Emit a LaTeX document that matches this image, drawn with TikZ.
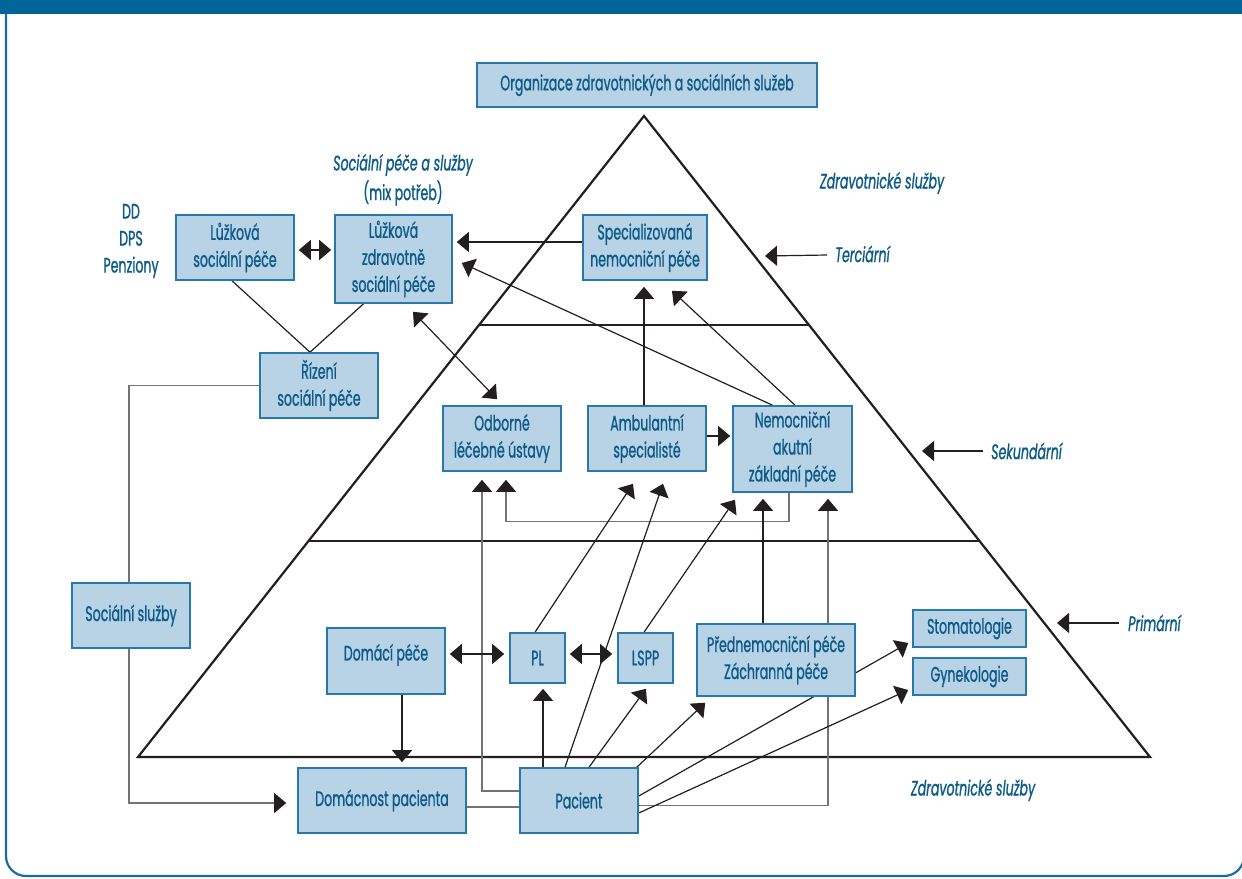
\documentclass[tikz,border=0pt]{standalone}
\usepackage{fontspec}
\setmainfont{Poppins}[FakeStretch=0.6, FakeBold=0.9]
\usetikzlibrary{arrows.meta,calc,backgrounds}
\definecolor{hdr}{RGB}{0,102,153}
\definecolor{frm}{RGB}{26,110,158}
\definecolor{txt}{RGB}{12,90,136}
\definecolor{bfill}{RGB}{184,211,230}
\definecolor{bdraw}{RGB}{40,120,170}
\definecolor{ink}{RGB}{35,31,32}
\definecolor{grayline}{RGB}{115,115,115}
\tikzset{
  bx/.style={draw=bdraw, fill=bfill, line width=1.6pt, text=txt, align=center, inner sep=0pt},
  lbl/.style={text=txt, inner sep=0pt},
  lev/.style={text=txt, font=\itshape, inner sep=0pt, anchor=west},
  tip/.style={-{Triangle[length=12pt,width=20pt,color=ink]}},
  con/.style={draw=ink, line width=1.2pt},
  arr/.style={con, tip},
  dbl/.style={con, {Triangle[length=12pt,width=20pt]}-{Triangle[length=12pt,width=20pt]}},
  elb/.style={draw=grayline, line width=1.3pt},
  elbarr/.style={elb, tip},
  pyr/.style={draw=ink, line width=2.2pt, line join=miter},
}
% box given by its corners x1,y1,x2,y2 (y grows downwards)
\newcommand\bx[6]{\node[bx, minimum width={#4-#2}, minimum height={#5-#3}] (#1) at ({(#2+#4)/2},{(#3+#5)/2}) {#6};}
\begin{document}
\fontsize{21}{27}\selectfont%
\begin{tikzpicture}[x=1pt,y=-1pt]
\useasboundingbox (0,0) rectangle (1242,878);
% frame
\fill[hdr] (0,0) rectangle (1242,14);
\draw[frm, line width=2.2pt, rounded corners=20pt] (6,14) -- (6,876) -- (1244,876) -- (1244,820);

% boxes
\bx{org}{477}{63}{817}{107}{Organizace zdravotnických a sociálních služeb}
\bx{lzs}{176}{215}{294}{280}{Lůžková\\sociální péče}
\bx{lzz}{335}{215}{452}{303}{Lůžková\\zdravotně\\sociální péče}
\bx{spec}{583}{215}{707}{280}{Specializovaná\\nemocniční péče}
\bx{riz}{260}{353}{378}{418}{Řízení\\sociální péče}
\bx{odb}{443}{406}{561}{471}{Odborné\\léčebné ústavy}
\bx{amb}{588}{406}{706}{471}{Ambulantní\\specialisté}
\bx{nem}{733}{406}{852}{492}{Nemocniční\\akutní\\základní péče}
\bx{soc}{72}{583}{190}{648}{Sociální služby}
\bx{domp}{327}{628}{445}{694}{\raisebox{6pt}[\height][\depth]{Domácí péče}}
\bx{pl}{510}{633}{565}{683}{PL}
\bx{lspp}{618}{633}{673}{683}{LSPP}
\bx{pre}{697}{624}{855}{696}{Přednemocniční péče\\Záchranná péče}
\bx{stom}{913}{610}{1026}{647}{Stomatologie}
\bx{gyn}{913}{658}{1026}{695}{Gynekologie}
\bx{dom}{298}{768}{466}{833}{Domácnost pacienta}
\bx{pac}{520}{768}{638}{833}{Pacient}

% free labels
\node[lbl, font=\itshape] (socp) at (403,165) {Sociální péče a služby};
\node[lbl] (mix) at (403,193) {(mix potřeb)};
\node[lbl, align=center] (dd) at (131,241) {DD\\DPS\\Penziony};
\node[lbl, font=\itshape] (zstop) at (882,183) {Zdravotnické služby};
\node[lbl, font=\itshape] (zsbot) at (973,790) {Zdravotnické služby};
\node[lev] (terc) at (835,254) {Terciární};
\node[lev] (sek) at (991,451) {Sekundární};
\node[lev] (prim) at (1128,623) {Primární};

\begin{pgfonlayer}{background}
  \fill[white] (0,14) rectangle (1242,878);
  % pyramid with its three levels
  \coordinate (apex) at (644,116);
  \coordinate (bl) at (138,757);
  \coordinate (br) at (1150,757);
  \draw[pyr] (apex) -- (br) -- (bl) -- cycle;
  \draw[pyr] ($(apex)!0.326!(bl)$) -- ($(apex)!0.326!(br)$);
  \draw[pyr] ($(apex)!0.663!(bl)$) -- ($(apex)!0.663!(br)$);
  % level pointers
  \coordinate (tT) at (765,256);
  \coordinate (tS) at (922,451);
  \coordinate (tP) at (1057,623);
  \draw[arr] ($(terc.west)+(-8,1)$) -- (tT);
  \draw[arr] ($(sek.west)+(-8,0)$) -- (tS);
  \draw[arr] ($(prim.west)+(-9,0)$) -- (tP);

  % social care
  \draw[dbl] ($(lzs.east)+(4,2.5)$) -- ($(lzs.east -| lzz.west)+(-3,2.5)$);
  \draw[con] ($(lzs.south)+(-3,0)$) -- ($(riz.north)+(-9,0)$) -- ($(lzz.south)+(-30,0)$);
  \draw[elb] (riz.west) -| ($(soc.north)+(-2,0)$);
  \draw[elbarr] ($(soc.south)+(-2,0)$) |- ($(dom.west)+(-11,2.5)$);
  \draw[dbl] ($(lzz.south)+(19.5,8)$) -- ($(odb.north)+(-5,-6)$);

  % tertiary
  \draw[arr] ($(spec.west)+(0,-5.5)$) -- ($(spec.west -| lzz.east)+(4,-5.5)$);
  \draw[arr] ($(nem.north)+(-20,0)$) -- ($(lzz.east)+(9,4)$);
  \draw[arr] ($(nem.north)+(2.5,0)$) -- ($(spec.south)+(27,10)$);
  \draw[arr] ($(amb.north)+(-3,0)$) coordinate (a1) -- ($(a1 |- spec.south)+(0,6)$);

  % secondary
  \draw[arr] ($(amb.east)+(0,-2.5)$) -- ($(amb.east -| nem.west)+(-2,-2.5)$);
  \draw[elbarr] ($(nem.south)+(-3.5,0)$) -- ++(0,29) -| ($(odb.south)+(4,8)$);
  \draw[elbarr] ($(pac.west)+(0,-9.5)$) -| ($(odb.south)+(-20,8)$);
  \draw[arr] ($(pl.north)+(-2.5,0)$) -- ($(amb.south)+(-14,12)$);
  \draw[arr] ($(pac.north)+(-14,0)$) -- ($(amb.south)+(16,12)$);
  \draw[arr] ($(lspp.north)+(-1.5,0)$) -- ($(nem.south)+(-57.5,7)$);
  \draw[arr] ($(pre.north)+(-13,0)$) coordinate (p1) -- ($(p1 |- nem.south)+(0,6)$);
  \draw[elbarr] ($(pac.east)+(0,5)$) -| ($(nem.south)+(35.5,6)$);

  % primary
  \draw[arr] ($(pac.north east)+(-2,0)$) -- ($(pre.south west)+(9,6)$);
  \draw[arr] ($(pac.east)+(0,-4.5)$) -- ($(stom.west)+(-4,14.5)$);
  \draw[arr] ($(pac.east)+(0,12.5)$) -- ($(gyn.west)+(-4,13.5)$);
  \draw[elb] ($(dom.east)+(0,6.5)$) -- ($(dom.east -| pac.west)+(0,6.5)$);
  \draw[arr] ($(pac.north)+(-36,0)$) coordinate (p2) -- ($(p2 |- pl.south)+(0,5)$);
  \draw[arr] ($(pac.north)+(10,0)$) -- ($(lspp.south)+(0.5,5)$);
  \draw[dbl] ($(domp.east)+(4,-7)$) -- ($(domp.east -| pl.west)+(-5,-7)$);
  \draw[dbl] ($(pl.east)+(4,-4)$) -- ($(pl.east -| lspp.west)+(-5,-4)$);
  \draw[arr] ($(domp.south)+(16,0)$) coordinate (p3) -- ($(p3 |- dom.north)+(0,-5)$);
\end{pgfonlayer}
\end{tikzpicture}
\end{document}
